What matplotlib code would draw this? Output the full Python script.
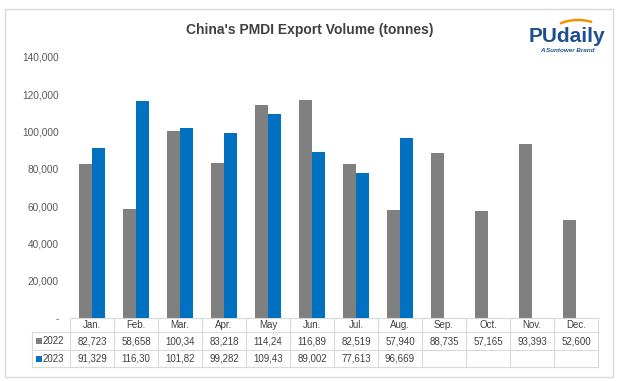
import numpy as np
import matplotlib
matplotlib.use("Agg")
import matplotlib.pyplot as plt
from matplotlib.patches import Rectangle, Arc

plt.rcParams['font.family'] = ['Liberation Sans', 'DejaVu Sans']

# data
months = ['Jan.', 'Feb.', 'Mar.', 'Apr.', 'May', 'Jun.',
          'Jul.', 'Aug.', 'Sep.', 'Oct.', 'Nov.', 'Dec.']
vol_2022 = [82723, 58658, 100340, 83218, 114240, 116890,
            82519, 57940, 88735, 57165, 93393, 52600]
vol_2023 = [91329, 116300, 101820, 99282, 109430, 89002,
            77613, 96669]
series = ['2022', '2023']
colors = ['#808080', '#0070C0']
yticks = [0, 20000, 40000, 60000, 80000, 100000, 120000, 140000]

W, H = 619, 381
fig = plt.figure(figsize=(W / 100, H / 100), dpi=100)

# overlay in pixel coords for border, table, logo
ov = fig.add_axes([0, 0, 1, 1])
ov.set_xlim(0, W)
ov.set_ylim(H, 0)
ov.axis('off')

# plot area (pixels)
L, R, TOP, BOT = 70, 598, 57, 318
ax = fig.add_axes([L / W, (H - BOT) / H, (R - L) / W, (BOT - TOP) / H])
x = np.arange(len(months))
bw = 0.29
ax.bar(x[:len(vol_2022)] - bw / 2, vol_2022, bw, color=colors[0], zorder=2)
ax.bar(x[:len(vol_2023)] + bw / 2, vol_2023, bw, color=colors[1], zorder=2)
ax.set_xlim(-0.5, len(months) - 0.5)
ax.set_ylim(0, 140000)
ax.set_yticks(yticks)
ax.set_yticklabels(['-' if v == 0 else f'{v:,}' for v in yticks],
                   fontsize=7.3, color='#595959')
ax.tick_params(axis='y', length=0, pad=8)
ax.set_xticks([])
for s in ax.spines.values():
    s.set_visible(False)
ax.patch.set_alpha(0)

# outer border
ov.add_patch(Rectangle((4.5, 8.5), 608, 368, fill=False, ec='#d9d9d9', lw=1))

# title
ov.text(310, 30, "China's PMDI Export Volume (tonnes)", ha='center', va='center',
        fontsize=10, fontweight='bold', color='#404040')

# data table
gc = '#d9d9d9'
tc = '#404040'
colw = (R - L) / len(months)
rows_y = [318, 332, 350, 367]
lab_l = 32
ov.plot([L, R], [rows_y[0]] * 2, color=gc, lw=0.8)
for y in rows_y[1:]:
    ov.plot([lab_l, R], [y, y], color=gc, lw=0.8)
for i in range(len(months) + 1):
    ov.plot([L + i * colw] * 2, [rows_y[0], rows_y[-1]], color=gc, lw=0.8)
ov.plot([lab_l, lab_l], [rows_y[1], rows_y[-1]], color=gc, lw=0.8)

for i, m in enumerate(months):
    cx = L + (i + 0.5) * colw
    ov.text(cx, (rows_y[0] + rows_y[1]) / 2 + 0.5, m, ha='center', va='center',
            fontsize=7, color=tc)
for r, vals in enumerate([vol_2022, vol_2023]):
    cy = (rows_y[r + 1] + rows_y[r + 2]) / 2
    for i, v in enumerate(vals):
        cx = L + (i + 0.5) * colw
        ov.text(cx, cy, f'{v:,}'[:6], ha='center', va='center',
                fontsize=7, color=tc)
    ov.add_patch(Rectangle((36, cy - 3), 6, 6, color=colors[r], lw=0))
    ov.text(43, cy, series[r], ha='left', va='center', fontsize=7, color=tc)

# logo
ov.add_patch(Arc((578, 32), 50, 24, theta1=205, theta2=325,
                 color='#f39200', lw=1.8))
ov.text(567, 37, 'PUdaily', ha='center', va='center', fontsize=15,
        fontweight='bold', color='#1d4f91')
ov.text(567, 50, 'A Suntower Brand', ha='center', va='center', fontsize=4.5,
        fontstyle='italic', fontweight='bold', color='#1d4f91')

fig.savefig('out.png', dpi=100)
